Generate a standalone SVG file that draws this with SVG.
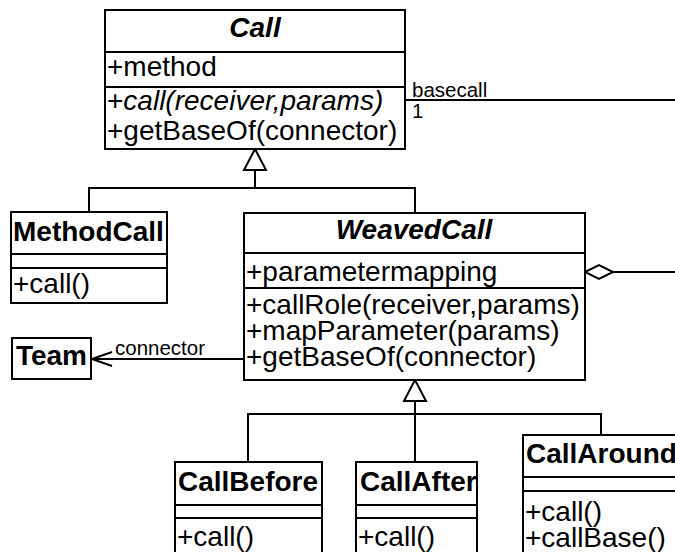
<svg xmlns="http://www.w3.org/2000/svg" width="675" height="552" viewBox="0 0 675 552">
  <style>
    .box { fill: #ffffff; stroke: #000000; stroke-width: 2; }
    .sep { stroke: #000000; stroke-width: 2; }
    .edge { fill: none; stroke: #000000; stroke-width: 2; }
    .head { fill: #ffffff; stroke: #000000; stroke-width: 2; }
    text { font-family: "Liberation Sans", Arial, sans-serif; fill: #000000; }
    .name { font-size: 28px; font-weight: bold; }
    .abstract { font-style: italic; }
    .member { font-size: 28px; }
    .label { font-size: 20.5px; }
  </style>

  <!-- connectors -->
  <g id="connectors">
    <!-- generalization: MethodCall, WeavedCall -> Call -->
    <polyline class="edge" points="89,212 89,188 415,188 415,213"/>
    <line class="edge" x1="255" y1="188" x2="255" y2="170"/>
    <polygon class="head" points="255,149 244,170 266,170"/>
    <!-- generalization: CallBefore, CallAfter, CallAround -> WeavedCall -->
    <polyline class="edge" points="248,462 248,414 601,414 601,435"/>
    <line class="edge" x1="415" y1="462" x2="415" y2="401"/>
    <polygon class="head" points="415,380 404,401 426,401"/>
    <!-- association: basecall -->
    <line class="edge" x1="405" y1="100" x2="675" y2="100"/>
    <text class="label" x="412" y="97">basecall</text>
    <text class="label" x="412" y="118">1</text>
    <!-- aggregation on WeavedCall -->
    <line class="edge" x1="613" y1="272" x2="675" y2="272"/>
    <polygon class="head" points="585,272 599,265 613,272 599,279"/>
    <!-- navigable association: connector -> Team -->
    <line class="edge" x1="244" y1="359" x2="92" y2="359"/>
    <polyline class="edge" points="112,352 92,359 112,366"/>
    <text class="label" x="115" y="355">connector</text>
  </g>

  <g id="Call">
    <rect class="box" x="105" y="10" width="300" height="139"/>
    <line class="sep" x1="105" y1="52" x2="405" y2="52"/>
    <line class="sep" x1="105" y1="87" x2="405" y2="87"/>
    <text class="name abstract" x="255" y="37" text-anchor="middle">Call</text>
    <text class="member" x="107" y="76">+method</text>
    <text class="member" x="107" y="110">+<tspan font-style="italic">call(receiver,params)</tspan></text>
    <text class="member" x="107" y="140">+getBaseOf(connector)</text>
  </g>

  <g id="MethodCall">
    <rect class="box" x="11" y="212" width="156" height="91"/>
    <line class="sep" x1="11" y1="254" x2="167" y2="254"/>
    <line class="sep" x1="11" y1="268" x2="167" y2="268"/>
    <text class="name" x="13" y="241">MethodCall</text>
    <text class="member" x="13" y="293">+call()</text>
  </g>

  <g id="WeavedCall">
    <rect class="box" x="244" y="213" width="341" height="167"/>
    <line class="sep" x1="244" y1="253" x2="585" y2="253"/>
    <line class="sep" x1="244" y1="288" x2="585" y2="288"/>
    <text class="name abstract" x="414" y="239" text-anchor="middle">WeavedCall</text>
    <text class="member" x="246" y="281">+parametermapping</text>
    <text class="member" x="246" y="314">+callRole(receiver,params)</text>
    <text class="member" x="246" y="340">+mapParameter(params)</text>
    <text class="member" x="246" y="366">+getBaseOf(connector)</text>
  </g>

  <g id="Team">
    <rect class="box" x="12" y="338" width="79" height="41"/>
    <text class="name" x="51.5" y="365" text-anchor="middle">Team</text>
  </g>

  <g id="CallBefore">
    <rect class="box" x="175" y="462" width="147" height="100"/>
    <line class="sep" x1="175" y1="505" x2="322" y2="505"/>
    <line class="sep" x1="175" y1="518" x2="322" y2="518"/>
    <text class="name" x="178" y="491">CallBefore</text>
    <text class="member" x="177" y="546">+call()</text>
  </g>

  <g id="CallAfter">
    <rect class="box" x="356" y="462" width="121" height="100"/>
    <line class="sep" x1="356" y1="505" x2="477" y2="505"/>
    <line class="sep" x1="356" y1="518" x2="477" y2="518"/>
    <text class="name" x="360" y="491">CallAfter</text>
    <text class="member" x="358" y="546">+call()</text>
  </g>

  <g id="CallAround">
    <rect class="box" x="523" y="435" width="170" height="127"/>
    <line class="sep" x1="523" y1="477" x2="693" y2="477"/>
    <line class="sep" x1="523" y1="491" x2="693" y2="491"/>
    <text class="name" x="526" y="463">CallAround</text>
    <text class="member" x="525" y="521">+call()</text>
    <text class="member" x="525" y="547">+callBase()</text>
  </g>
</svg>
